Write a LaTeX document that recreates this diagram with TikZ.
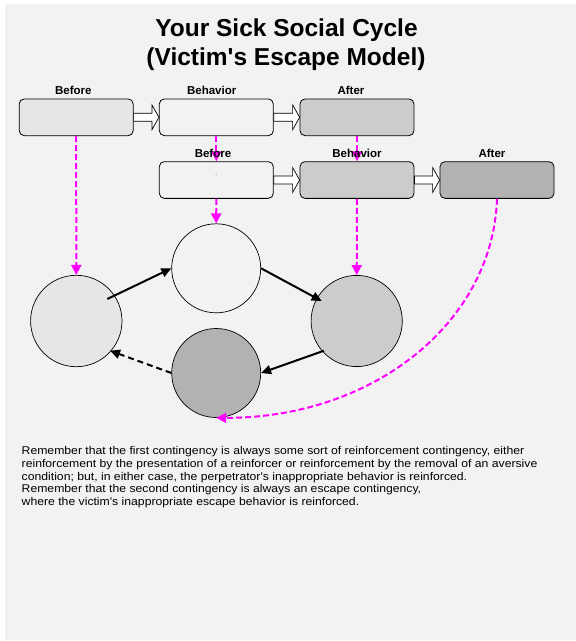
\documentclass[tikz,border=0pt]{standalone}
\usepackage{fontspec}
\newfontfamily\arialfont{Liberation Sans}
\newfontfamily\notefont{Liberation Sans}[FakeStretch=1.09]
\usetikzlibrary{arrows.meta}

\definecolor{pagebg}{HTML}{F2F2F2}
\definecolor{fillA}{HTML}{E6E6E6}
\definecolor{fillB}{HTML}{F2F2F2}
\definecolor{fillC}{HTML}{CCCCCC}
\definecolor{fillD}{HTML}{B2B2B2}
\definecolor{magentaline}{HTML}{FF00FF}

\tikzset{
  stagebox/.style={draw=black, line width=0.8pt, rounded corners=5pt,
    minimum width=114pt, minimum height=36.7pt, inner sep=0pt},
  stagelabel/.style={font=\arialfont\bfseries\fontsize{11.5}{13}\selectfont, inner sep=0pt, anchor=base},
  state/.style={draw=black, line width=0.7pt, circle, inner sep=0pt},
  blockarrow/.style={draw=black, line width=0.7pt, fill=white},
  causal/.style={draw=black, line width=2pt, -{Triangle[length=10pt,width=9pt]}},
  causaldash/.style={causal, dash pattern=on 6pt off 4pt},
  link/.style={draw=magentaline, line width=2pt, dash pattern=on 6pt off 3pt,
    -{Triangle[length=10pt,width=10pt]}},
}

\begin{document}
\begin{tikzpicture}[x=1pt, y=-1pt]
  \useasboundingbox (0,0) rectangle (576,641);
  \fill[white] (0,0) rectangle (576,641);
  \fill[pagebg] (5,4) rectangle (576,640);

  % title
  \node[font=\arialfont\bfseries\fontsize{24.5}{29}\selectfont, anchor=base, inner sep=0pt]
    (title1) at (286.5,36) {Your Sick Social Cycle};
  \node[font=\arialfont\bfseries\fontsize{24.5}{29}\selectfont, anchor=base, inner sep=0pt]
    (title2) at (286,65) {(Victim's Escape Model)};

  % first contingency
  \node[stagebox, fill=fillA] (b1) at (76.2,117.3) {};
  \node[stagebox, fill=fillB] (b2) at (216.3,117.3) {};
  \node[stagebox, fill=fillC] (b3) at (357,117.3) {};

  % second contingency
  \node[stagebox, fill=fillB] (b4) at (216.3,180) {};
  \node[stagebox, fill=fillC] (b5) at (357,180) {};
  \node[stagebox, fill=fillD] (b6) at (497,180) {};
  \node[font=\arialfont\fontsize{6}{7}\selectfont, inner sep=0pt] (dot) at (216.3,175) {.};

  % hollow block arrows between stages
  \foreach \a/\b in {b1/b2, b2/b3, b4/b5, b5/b6} {
    \draw[blockarrow] ([yshift=4pt]\a.east) -- ([xshift=-7pt,yshift=4pt]\b.west)
      -- ([xshift=-7pt,yshift=12.5pt]\b.west) -- (\b.west)
      -- ([xshift=-7pt,yshift=-12.5pt]\b.west) -- ([xshift=-7pt,yshift=-4pt]\b.west)
      -- ([yshift=-4pt]\a.east) -- cycle;
  }

  % states of the cycle
  \node[state, fill=fillA, minimum size=91.4pt] (c1) at (76.3,321) {};
  \node[state, fill=fillB, minimum size=89pt] (c2) at (216.2,268.3) {};
  \node[state, fill=fillC, minimum size=91.2pt] (c3) at (356.7,321) {};
  \node[state, fill=fillD, minimum size=89pt] (c4) at (216.2,373) {};

  % links from contingency terms to states
  \draw[link] (b1.south) -- (c1.north);
  \draw[link] (b2.south) -- (b4.north);
  \draw[link] (b4.south) -- (c2.north);
  \draw[link] (b3.south) -- (b5.north);
  \draw[link] (b5.south) -- (c3.north);
  \draw[link] (b6.south) .. controls (493,322) and (374,418) .. (c4.south);

  % cycle arrows
  \coordinate (a1s) at (107.3,299);
  \coordinate (a2e) at (321.7,301);
  \coordinate (a3s) at (324,350.7);
  \coordinate (a4e) at (110,350.7);
  \draw[causal] (a1s) -- (c2.west);
  \draw[causal] (c2.east) -- (a2e);
  \draw[causal] (a3s) -- (c4.east);
  \draw[causaldash] (c4.west) -- (a4e);

  % stage labels
  \node[stagelabel] (l1) at (73.3,94) {Before};
  \node[stagelabel] (l2) at (211.7,94) {Behavior};
  \node[stagelabel] (l3) at (351,94) {After};
  \node[stagelabel] (l4) at (213,157) {Before};
  \node[stagelabel] (l5) at (357,157) {Behavior};
  \node[stagelabel] (l6) at (492,157) {After};

  % explanation
  \node[font=\notefont\fontsize{11.2}{12.7}\selectfont, align=left, anchor=north west, inner sep=0pt]
    (note) at (21.5,446.5) {Remember that the first contingency is always some sort of reinforcement contingency, either\\
reinforcement by the presentation of a reinforcer or reinforcement by the removal of an aversive\\
condition; but, in either case, the perpetrator's inappropriate behavior is reinforced.\\
Remember that the second contingency is always an escape contingency,\\
where the victim's inappropriate escape behavior is reinforced.};
\end{tikzpicture}
\end{document}
